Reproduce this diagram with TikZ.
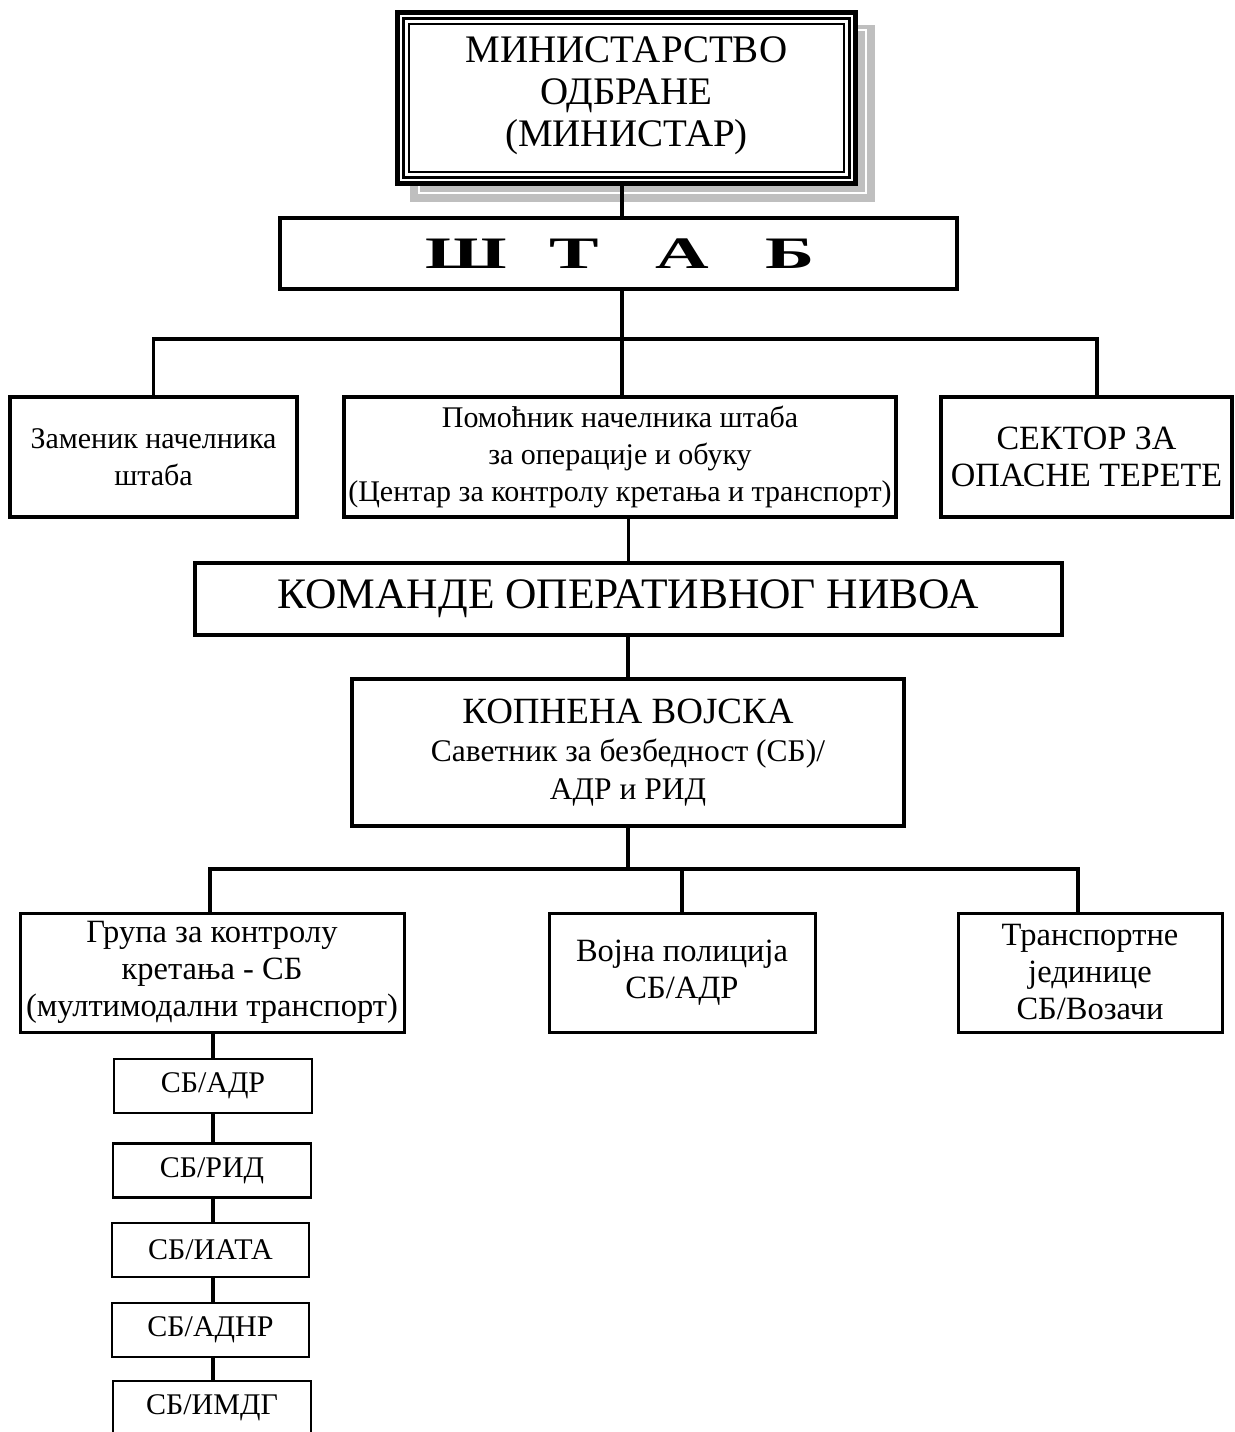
\documentclass[tikz,border=0pt]{standalone}
\usepackage{fontspec}
\setmainfont{Liberation Serif}
\newfontfamily\widebold[FakeStretch=1.65]{Liberation Serif}
\begin{document}
\begin{tikzpicture}[x=1pt,y=-1pt,
  box/.style={draw, line width=4pt, fill=white, inner sep=0pt, align=center},
  midbox/.style={draw, line width=3pt, fill=white, inner sep=0pt, align=center},
  smallbox/.style={draw, line width=2.5pt, fill=white, inner sep=0pt, align=center,
    minimum height=54pt, font=\fontsize{30}{34}\selectfont},
  link/.style={line width=3.5pt}]
\useasboundingbox (0,0) rectangle (1234,1432);

% ---- Ministry: grey shadow, then triple frame ----
\fill[black!25] (410,25) rectangle (875,202);
\draw[white, line width=1.2pt] (419,30) rectangle (866,193);
\node[fill=white, minimum width=463pt, minimum height=176pt, inner sep=0pt, align=center,
      font=\fontsize{39}{42}\selectfont] (mo) at (626.5,96) {МИНИСТАРСТВО\\ОДБРАНЕ\\(МИНИСТАР)};
\draw[line width=5pt] (397.5,12.5) rectangle (855.5,183.5);
\draw[line width=3pt] (403.5,18.5) rectangle (849.5,177.5);
\draw[line width=2pt] (409,24) rectangle (844,172);

% ---- Staff ----
\node[box, minimum width=677pt, minimum height=71pt, font=\widebold\bfseries\fontsize{45}{50}\selectfont]
  (stab) at (618.5,253.5)
  {\hspace*{19pt}\makebox[108pt]{Ш}\makebox[108pt]{Т}\makebox[108pt]{А}\makebox[108pt]{Б}};

% ---- Second row ----
\node[box, minimum width=287pt, minimum height=120pt, font=\fontsize{30}{37}\selectfont] (zam) at (153.5,457)
  {Заменик начелника\\штаба};
\node[box, minimum width=552pt, minimum height=120pt, font=\fontsize{30}{37}\selectfont] (pom) at (620,457)
  {Помоћник начелника штаба\\за операције и обуку\\(Центар за контролу кретања и транспорт)};
\node[box, minimum width=291pt, minimum height=120pt, font=\fontsize{34}{37}\selectfont] (sek) at (1086.5,457)
  {СЕКТОР ЗА\\ОПАСНЕ ТЕРЕТЕ};

% ---- Operational level ----
\node[box, minimum width=867pt, minimum height=72pt, font=\fontsize{43.5}{48}\selectfont] (kom) at (628.5,599)
  {КОМАНДЕ ОПЕРАТИВНОГ НИВОА};
\node[box, minimum width=552pt, minimum height=147pt, font=\fontsize{31.5}{38}\selectfont] (kop) at (628,752.5)
  {{\fontsize{37}{38}\selectfont КОПНЕНА ВОЈСКА}\\
   Саветник за безбедност (СБ)/\\
   АДР и РИД};

% ---- Fourth row ----
\node[midbox, minimum width=384pt, minimum height=119pt, font=\fontsize{32.5}{37}\selectfont] (grp) at (212,972.5)
  {Група за контролу\\кретања - СБ\\(мултимодални транспорт)};
\node[midbox, minimum width=266pt, minimum height=119pt, font=\fontsize{32.5}{37}\selectfont] (vp) at (682,972.5)
  {Војна полиција\\СБ/АДР};
\node[midbox, minimum width=264pt, minimum height=119pt, font=\fontsize{32.5}{37}\selectfont] (tj) at (1090,972.5)
  {Транспортне\\јединице\\СБ/Возачи};

% ---- Chain of safety advisers ----
\node[smallbox, minimum width=198pt] (c1) at (213,1086)    {СБ/АДР};
\node[smallbox, minimum width=198pt] (c2) at (212,1170.5)  {СБ/РИД};
\node[smallbox, minimum width=197pt] (c3) at (210.5,1250)  {СБ/ИАТА};
\node[smallbox, minimum width=197pt] (c4) at (210.5,1330)  {СБ/АДНР};
\node[smallbox, minimum width=198pt] (c5) at (212,1408)    {СБ/ИМДГ};

% ---- Connectors ----
\coordinate (j1) at (622,339);
\coordinate (r1) at (1097,339);
\coordinate (j2) at (628,869);
\coordinate (r2) at (1078,869);
\coordinate (l2) at (210,869);
\coordinate (m2) at (682,869);
\coordinate (cx) at (213,0);

\draw[link] (mo.south -| j1) -- (stab.north -| j1);
\draw[link] (stab.south -| j1) -- (j1);
\draw[link] (zam.north) |- (r1) -- (sek.north -| r1);
\draw[link] (j1) -- (pom.north -| j1);
\draw[link] (pom.south -| kom.north) -- (kom.north);
\draw[link] (kom.south -| kop.north) -- (kop.north);
\draw[link] (kop.south) -- (j2);
\draw[link] (grp.north -| l2) -- (l2) -- (r2) -- (tj.north -| r2);
\draw[link] (m2) -- (vp.north);
\draw[link] (grp.south -| cx) -- (c1.north -| cx);
\draw[link] (c1.south -| cx) -- (c2.north -| cx);
\draw[link] (c2.south -| cx) -- (c3.north -| cx);
\draw[link] (c3.south -| cx) -- (c4.north -| cx);
\draw[link] (c4.south -| cx) -- (c5.north -| cx);
\end{tikzpicture}
\end{document}
